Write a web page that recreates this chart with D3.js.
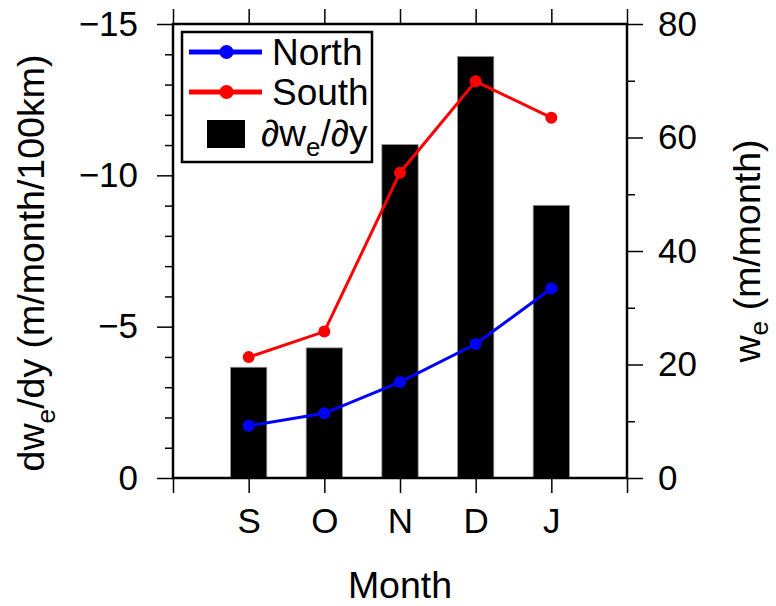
<!DOCTYPE html>
<html>
<head>
<meta charset="utf-8">
<script src="https://cdn.jsdelivr.net/npm/d3@7"></script>
<style>
  html, body { margin: 0; padding: 0; background: #fff; }
  svg text { font-family: "Liberation Sans", Arial, Helvetica, sans-serif; fill: #000; }
</style>
</head>
<body>
<svg id="chart" width="776" height="606"></svg>
<script>
// Months on the x axis (positions 1..5 in a 0..6 domain)
const months = ["S", "O", "N", "D", "J"];
// Meridional gradient of Ekman pumping (bars, left axis)
const gradient = [-3.66, -4.30, -11.02, -13.93, -9.01];
// Ekman pumping, northern and southern boxes (lines, right axis)
const north = [9.2, 11.4, 16.9, 23.6, 33.4];
const south = [21.3, 25.8, 53.8, 69.9, 63.5];
// Tick values
const leftMajor = [0, -5, -10, -15];
const leftMinor = d3.range(-1, -15, -1).filter(v => v % 5 !== 0);
const rightMajor = [0, 20, 40, 60, 80];
const rightMinor = [10, 30, 50, 70];
const xTicks = [0, 1, 2, 3, 4, 5, 6];

const FS_TICK = 35;
const FS_TITLE = 37.5;
const FS_LEGEND = 37;
const svg = d3.select("#chart");
const L = 173, R = 627, T = 24, B = 478;

const x = d3.scaleLinear().domain([0, 6]).range([L, R]);
const yL = d3.scaleLinear().domain([0, -15]).range([B, T]);
const yR = d3.scaleLinear().domain([0, 80]).range([B, T]);

// Bars
const barW = x(0.48) - x(0);
svg.append("g").selectAll("rect").data(gradient).join("rect")
  .attr("x", (d, i) => x(i + 1) - barW / 2)
  .attr("y", d => yL(d))
  .attr("width", barW)
  .attr("height", d => yL(0) - yL(d))
  .attr("fill", "#000")
  .attr("stroke", "#999")
  .attr("stroke-width", 0.8);

// Lines with markers
function series(vals, color) {
  const line = d3.line().x((d, i) => x(i + 1)).y(d => yR(d));
  svg.append("path").datum(vals).attr("d", line)
    .attr("fill", "none").attr("stroke", color).attr("stroke-width", 3);
  svg.append("g").selectAll("circle").data(vals).join("circle")
    .attr("cx", (d, i) => x(i + 1)).attr("cy", d => yR(d))
    .attr("r", 6).attr("fill", color);
}
series(north, "#0000ff");
series(south, "#ff0000");

// Axes
function styleAxis(g, width) {
  g.select(".domain").remove();
  g.selectAll(".tick line").attr("stroke", "#000").attr("stroke-width", width);
  g.selectAll(".tick text").attr("font-size", FS_TICK).attr("fill", "#000");
}
// left
svg.append("g").attr("transform", `translate(${L},0)`)
  .call(d3.axisLeft(yL).tickValues(leftMinor).tickSize(8).tickFormat(""))
  .call(g => styleAxis(g, 1.5));
svg.append("g").attr("transform", `translate(${L},0)`)
  .call(d3.axisLeft(yL).tickValues(leftMajor).tickSize(16).tickPadding(19))
  .call(g => styleAxis(g, 1.5));
// right
svg.append("g").attr("transform", `translate(${R},0)`)
  .call(d3.axisRight(yR).tickValues(rightMinor).tickSize(8).tickFormat(""))
  .call(g => styleAxis(g, 1.5));
svg.append("g").attr("transform", `translate(${R},0)`)
  .call(d3.axisRight(yR).tickValues(rightMajor).tickSize(16).tickPadding(15))
  .call(g => styleAxis(g, 1.5));
// bottom
svg.append("g").attr("transform", `translate(0,${B})`)
  .call(d3.axisBottom(x).tickValues(xTicks).tickSize(15).tickPadding(15)
    .tickFormat(d => (d >= 1 && d <= 5) ? months[d - 1] : ""))
  .call(g => styleAxis(g, 1.5));
// top
svg.append("g").attr("transform", `translate(0,${T})`)
  .call(d3.axisTop(x).tickValues(xTicks).tickSize(15).tickFormat(""))
  .call(g => styleAxis(g, 1.5));

// Frame
svg.append("rect").attr("x", L).attr("y", T).attr("width", R - L).attr("height", B - T)
  .attr("fill", "none").attr("stroke", "#000").attr("stroke-width", 2.5);

// Text with a subscript "e"
function subText(sel, parts, fs, shift) {
  parts.forEach(p => {
    const t = sel.append("tspan").text(p.t);
    if (p.sub) t.attr("font-size", fs * 0.7).attr("dy", fs * shift);
    else if (p.after) t.attr("dy", -fs * shift);
  });
}
const lt = svg.append("text").attr("transform", `translate(44,263) rotate(-90)`)
  .attr("text-anchor", "middle").attr("font-size", FS_TITLE);
subText(lt, [{t: "dw"}, {t: "e", sub: true}, {t: "/dy (m/month/100km)", after: true}], FS_TITLE, 0.28);

const rt = svg.append("text").attr("transform", `translate(760,251) rotate(-90)`)
  .attr("text-anchor", "middle").attr("font-size", FS_TITLE);
subText(rt, [{t: "w"}, {t: "e", sub: true}, {t: " (m/month)", after: true}], FS_TITLE, 0.2);

svg.append("text").attr("x", 400).attr("y", 598).attr("text-anchor", "middle")
  .attr("font-size", FS_TITLE).text("Month");

// Legend
const lg = svg.append("g");
lg.append("rect").attr("x", 182).attr("y", 32).attr("width", 190).attr("height", 130)
  .attr("fill", "#fff").attr("stroke", "#000").attr("stroke-width", 2.5);
[["North", "#0000ff", 52], ["South", "#ff0000", 92]].forEach(([name, color, yy]) => {
  lg.append("line").attr("x1", 189).attr("x2", 262).attr("y1", yy).attr("y2", yy)
    .attr("stroke", color).attr("stroke-width", 5);
  lg.append("circle").attr("cx", 226.5).attr("cy", yy).attr("r", 7).attr("fill", color);
  lg.append("text").attr("x", 272).attr("y", yy + 13).attr("font-size", FS_LEGEND).text(name);
});
lg.append("rect").attr("x", 207).attr("y", 120).attr("width", 38).attr("height", 28).attr("fill", "#000");
const lt3 = lg.append("text").attr("x", 261).attr("y", 146).attr("font-size", FS_LEGEND);
subText(lt3, [{t: "∂w"}, {t: "e", sub: true}, {t: "/∂y", after: true}], FS_LEGEND, 0.28);
</script>
</body>
</html>
